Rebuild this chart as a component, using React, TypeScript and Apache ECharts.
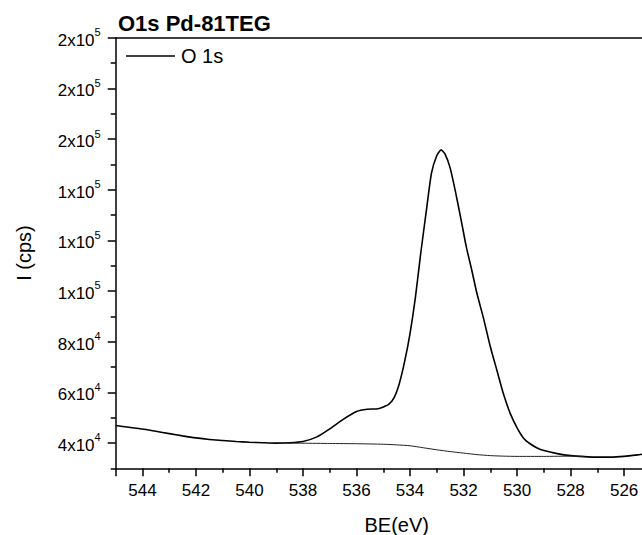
import React, { useEffect, useRef } from "react";
import * as echarts from "echarts";

const titleText = "O1s Pd-81TEG";
const seriesName = "O 1s";
const xName = "BE(eV)";
const yName = "I (cps)";

// Main O 1s spectrum (binding energy, counts)
const mainBE = [545, 544.5, 544, 543.5, 543, 542.5, 542, 541.5, 541, 540.5, 540, 539.5, 539, 538.5, 538, 537.5, 537, 536.5, 536, 535.6, 535.2, 535, 534.8, 534.6, 534.4, 534.2, 534, 533.8, 533.6, 533.4, 533.2, 533, 532.84, 532.7, 532.5, 532.3, 532.1, 531.9, 531.7, 531.5, 531.25, 531, 530.75, 530.5, 530.25, 530, 529.75, 529.5, 529.25, 529, 528.5, 528, 527.5, 527, 526.5, 526, 525.5, 525.3];
const mainI = [46900, 46200, 45500, 44600, 43700, 42800, 42000, 41400, 41000, 40600, 40300, 40100, 39950, 40100, 40600, 42300, 45600, 49300, 52400, 53300, 53500, 54200, 55200, 57800, 63500, 72300, 83300, 97500, 115000, 131000, 146500, 153500, 155700, 154200, 148500, 139000, 128500, 117500, 108500, 99000, 89000, 78000, 68500, 59000, 51500, 46000, 41800, 39600, 38000, 37000, 35800, 35000, 34600, 34400, 34400, 34700, 35300, 35600];

// Background (baseline) curve
const bgBE = [539, 538, 537, 536, 535, 534.5, 534, 533.5, 533, 532.5, 532, 531.5, 531, 530.5, 530, 529, 528, 527.5];
const bgI = [39950, 39900, 39800, 39700, 39500, 39250, 38900, 38100, 37300, 36600, 36000, 35400, 35000, 34800, 34700, 34700, 34800, 34700];

// Axis ticks
const xMin = 524;
const xMax = 545;
const xInterval = 2;
const xTickLabels = ["544", "542", "540", "538", "536", "534", "532", "530", "528", "526"];
const yMin = 30000;
const yMax = 200000;
const yMajorTicks = [40000, 60000, 80000, 100000, 120000, 140000, 160000, 180000, 200000];
const yMinorTicks = [30000, 50000, 70000, 90000, 110000, 130000, 150000, 170000, 190000];
const yTickMantissa = ["4", "6", "8", "1", "1", "1", "2", "2", "2"];
const yTickExponent = ["4", "4", "4", "5", "5", "5", "5", "5", "5"];

const FONT = "'Liberation Sans', Arial, Helvetica, sans-serif";

export default function App() {
  const ref = useRef<HTMLDivElement>(null);
  useEffect(() => {
    if (!ref.current) return;
    const chart = echarts.init(ref.current, null, { renderer: "svg" });
    const axisLine = { show: true, lineStyle: { color: "#000", width: 1.5 } };
    chart.setOption({
      animation: false,
      backgroundColor: "#fff",
      textStyle: { fontFamily: FONT },
      title: {
        text: titleText,
        left: 118,
        top: 12,
        padding: 0,
        textStyle: { fontFamily: FONT, fontSize: 22, fontWeight: "bold", color: "#000" },
      },
      legend: {
        left: 126,
        top: 46,
        padding: 0,
        itemWidth: 49,
        itemHeight: 1.5,
        itemGap: 6,
        icon: "rect",
        data: [{ name: seriesName, icon: "rect", itemStyle: { color: "#000", borderWidth: 0 } }],
        textStyle: { fontFamily: FONT, fontSize: 20, color: "#000", padding: [0, 0, 0, 1] },
      },
      grid: {
        left: 115.7,
        top: 37.7,
        width: 561.96,
        height: 430.6,
        containLabel: false,
        outerBoundsMode: "none",
      },
      xAxis: [
        {
          type: "value",
          inverse: true,
          min: xMin,
          max: xMax,
          interval: xInterval,
          position: "bottom",
          name: xName,
          nameLocation: "middle",
          nameGap: 47,
          nameTextStyle: { fontFamily: FONT, fontSize: 20, color: "#000" },
          axisLine,
          axisTick: { show: true, length: 8, inside: false, lineStyle: { color: "#000", width: 1.5 } },
          minorTick: { show: true, splitNumber: 2, length: 4.5, lineStyle: { color: "#000", width: 1.5 } },
          axisLabel: {
            margin: 14,
            showMinLabel: false,
            fontFamily: FONT,
            fontSize: 17,
            color: "#000",
            formatter: (v: number) => (xTickLabels.indexOf(String(v)) >= 0 ? String(v) : ""),
          },
          splitLine: { show: false },
        },
        {
          type: "value",
          inverse: true,
          min: xMin,
          max: xMax,
          position: "top",
          axisLine,
          axisTick: { show: false },
          axisLabel: { show: false },
          splitLine: { show: false },
        },
      ],
      yAxis: [
        {
          type: "value",
          min: yMin,
          max: yMax,
          position: "left",
          name: yName,
          nameLocation: "middle",
          nameGap: 82,
          nameTextStyle: { fontFamily: FONT, fontSize: 20, color: "#000" },
          axisLine,
          axisTick: {
            show: true,
            length: 8,
            customValues: yMajorTicks,
            lineStyle: { color: "#000", width: 1.5 },
          },
          axisLabel: {
            margin: 15,
            customValues: yMajorTicks,
            formatter: (v: number) => {
              const i = yMajorTicks.indexOf(v);
              if (i < 0) return "";
              return `{m|${yTickMantissa[i]}x10}{e|${yTickExponent[i]}}`;
            },
            rich: {
              m: { fontFamily: FONT, fontSize: 17, color: "#000", lineHeight: 22, verticalAlign: "bottom" },
              e: { fontFamily: FONT, fontSize: 11, color: "#000", lineHeight: 22, verticalAlign: "top" },
            },
          },
          splitLine: { show: false },
        },
        {
          type: "value",
          min: yMin,
          max: yMax,
          position: "left",
          axisLine: { show: false },
          axisTick: {
            show: true,
            length: 5,
            customValues: yMinorTicks,
            lineStyle: { color: "#000", width: 1.5 },
          },
          axisLabel: { show: false },
          splitLine: { show: false },
        },
      ],
      series: [
        {
          name: seriesName,
          type: "line",
          xAxisIndex: 0,
          yAxisIndex: 0,
          symbol: "none",
          smooth: 0.2,
          lineStyle: { color: "#000", width: 1.6 },
          itemStyle: { color: "#000" },
          data: mainBE.map((x, i) => [x, mainI[i]]),
        },
        {
          name: "Background",
          type: "line",
          xAxisIndex: 0,
          yAxisIndex: 0,
          symbol: "none",
          smooth: 0.2,
          lineStyle: { color: "#222", width: 1 },
          itemStyle: { color: "#222" },
          data: bgBE.map((x, i) => [x, bgI[i]]),
        },
      ],
    });
    return () => chart.dispose();
  }, []);
  return (
    <div
      ref={ref}
      style={{ position: "absolute", left: 0, top: 0, width: 642, height: 535, background: "#fff" }}
    />
  );
}
